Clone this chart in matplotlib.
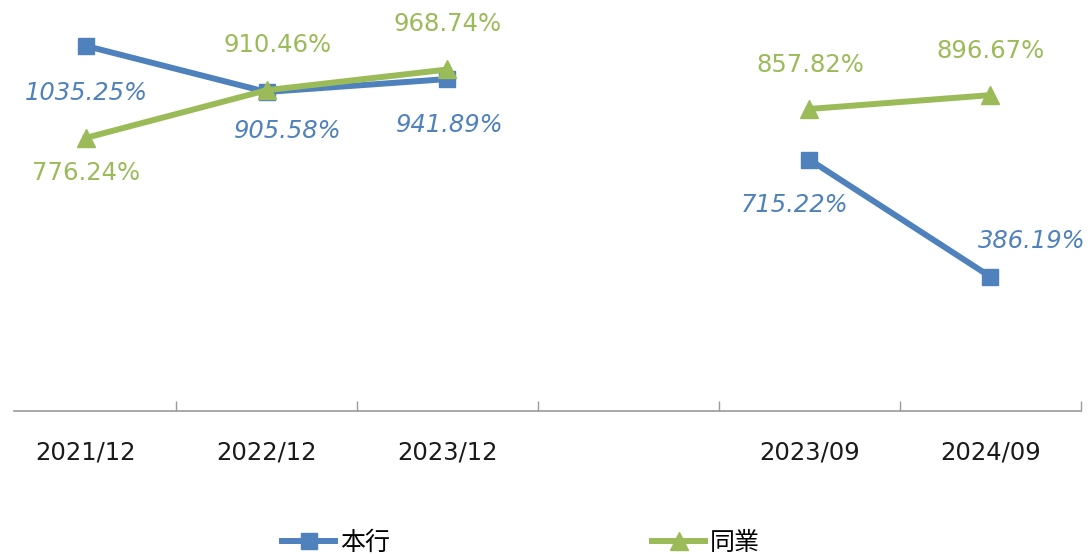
import numpy as np
import matplotlib
matplotlib.use("Agg")
import matplotlib.pyplot as plt

plt.rcParams["font.family"] = ["DejaVu Sans", "Noto Sans CJK TC"]

categories = ["2021/12", "2022/12", "2023/12", "", "2023/09", "2024/09"]
bank = [1035.25, 905.58, 941.89, np.nan, 715.22, 386.19]
peers = [776.24, 910.46, 968.74, np.nan, 857.82, 896.67]
bank_name = "本行"
peers_name = "同業"

# label offsets in pixels (dx, dy) relative to each point
bank_offsets = [(1, -47), (21, -39), (2, -46), None, (-15, -45), (41, 36)]
peers_offsets = [(1, -35), (11, 45), (0, 45), None, (1, 44), (0, 44)]

blue = "#4F81BD"
green = "#9BBB59"

fig = plt.figure(figsize=(10.91, 5.54), dpi=100)
ax = fig.add_axes([14 / 1091, 1 - 411 / 554, (1081 - 14) / 1091, 411 / 554])

x = np.arange(len(categories))
ax.plot(x[:3], bank[:3], color=blue, lw=4.3, marker="s", ms=12, zorder=3, label=bank_name)
ax.plot(x[4:], bank[4:], color=blue, lw=4.3, marker="s", ms=12, zorder=3)
ax.plot(x[:3], peers[:3], color=green, lw=4.3, marker="^", ms=13, zorder=4, label=peers_name)
ax.plot(x[4:], peers[4:], color=green, lw=4.3, marker="^", ms=13, zorder=4)

for xi, v, off in zip(x, bank, bank_offsets):
    if off is None:
        continue
    ax.annotate(f"{v:.2f}%", (xi, v), xytext=off, textcoords="offset pixels",
                ha="center", va="center", color=blue, fontsize=17.5, style="italic")
for xi, v, off in zip(x, peers, peers_offsets):
    if off is None:
        continue
    ax.annotate(f"{v:.2f}%", (xi, v), xytext=off, textcoords="offset pixels",
                ha="center", va="center", color=green, fontsize=17.5)

ax.set_xlim(-0.5 + 19 / 181, 5.5)
ax.set_ylim(9, 1164)

for s in ["top", "left", "right"]:
    ax.spines[s].set_visible(False)
ax.spines["bottom"].set_color("#9a9a9a")
ax.spines["bottom"].set_linewidth(1.2)

ax.set_yticks([])
ax.set_xticks(x)
ax.set_xticklabels(categories, fontsize=17.5, color="#1a1a1a")
ax.tick_params(axis="x", which="major", length=0, pad=21)
ax.set_xticks(np.arange(0.5, 6, 1), minor=True)
ax.tick_params(axis="x", which="minor", direction="in", length=7, color="#9a9a9a", width=1)

handles, labels = ax.get_legend_handles_labels()
fig.legend(handles, labels, loc="center", bbox_to_anchor=(521 / 1091, 11 / 554),
           ncol=2, frameon=False, fontsize=18, handlelength=2.1, handletextpad=0.2,
           columnspacing=10.5, borderaxespad=0, borderpad=0)

fig.savefig("out.png", dpi=100)
